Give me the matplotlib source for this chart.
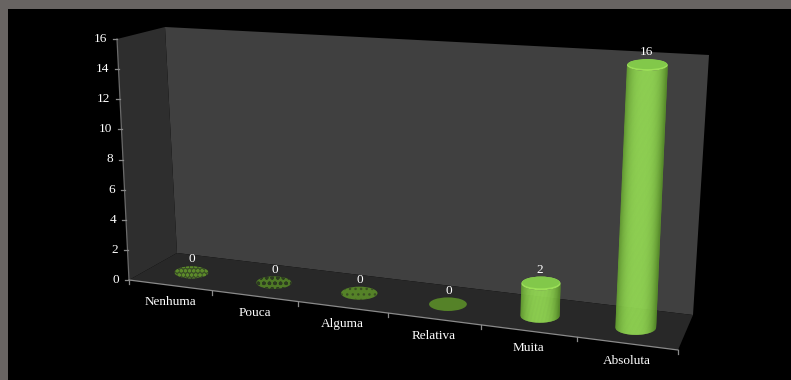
import numpy as np
import matplotlib
matplotlib.use('Agg')
import matplotlib.pyplot as plt
from matplotlib.patches import Polygon, Rectangle, Ellipse

categories = ['Nenhuma', 'Pouca', 'Alguma', 'Relativa', 'Muita', 'Absoluta']
values = [0, 0, 0, 0, 2, 16]
y_ticks = [0, 2, 4, 6, 8, 10, 12, 14, 16]
y_max = 16

# box corners in pixels
floor_fl = (129, 280)
floor_fr = (678, 350)
floor_br = (693, 315)
floor_bl = (177, 253)
up_fl = (-12, -241)
up_fr = (12, -269)
up_br = (16, -260)
up_bl = (-12, -226)


def homography(src, dst):
    A = []
    b = []
    for (x, y), (u, v) in zip(src, dst):
        A.append([x, y, 1, 0, 0, 0, -u * x, -u * y])
        A.append([0, 0, 0, x, y, 1, -v * x, -v * y])
        b.extend([u, v])
    h = np.linalg.solve(np.array(A, float), np.array(b, float))
    return np.append(h, 1).reshape(3, 3)


H = homography([(0, 0), (1, 0), (1, 1), (0, 1)], [floor_fl, floor_fr, floor_br, floor_bl])


def project(cat, val, depth):
    # cat in category units, val in chart units, depth 0 front .. 1 back
    u = cat / len(categories)
    p = H @ np.array([u, depth, 1.0])
    px, py = p[0] / p[2], p[1] / p[2]
    front = (1 - u) * np.array(up_fl) + u * np.array(up_fr)
    back = (1 - u) * np.array(up_bl) + u * np.array(up_br)
    up = (1 - depth) * front + depth * back
    return px + up[0] * val / y_max, py + up[1] * val / y_max


fig = plt.figure(figsize=(7.91, 3.80), dpi=100, facecolor='black')
ax = fig.add_axes([0, 0, 1, 1])
ax.set_xlim(0, 791)
ax.set_ylim(380, 0)
ax.axis('off')

ax.add_patch(Rectangle((0, 0), 791, 9, color='#686462', lw=0))
ax.add_patch(Rectangle((0, 0), 8, 380, color='#686462', lw=0))

n = len(categories)
ax.add_patch(Polygon([project(0, 0, 1), project(n, 0, 1), project(n, y_max, 1), project(0, y_max, 1)],
                     color='#404040', lw=0, zorder=1))
ax.add_patch(Polygon([project(0, 0, 0), project(0, 0, 1), project(0, y_max, 1), project(0, y_max, 0)],
                     color='#2e2e2e', lw=0, zorder=1))
ax.add_patch(Polygon([project(0, 0, 0), project(n, 0, 0), project(n, 0, 1), project(0, 0, 1)],
                     color='#282828', lw=0, zorder=1))

# axes
axis_col = '#8a8a8a'
label_font = dict(color='white', fontsize=9.5, family='Liberation Serif', va='center', zorder=6)
ax.plot(*zip(project(0, 0, 0), project(0, y_max, 0)), color='#6a6a6a', lw=0.9, zorder=2)
ax.plot(*zip(project(0, 0, 0), project(n, 0, 0)), color=axis_col, lw=0.9, zorder=2)
for t in y_ticks:
    x, y = project(0, t, 0)
    ax.plot([x - 4, x], [y, y], color=axis_col, lw=0.9, zorder=2)
    ax.text(x - 9.5, y, str(t), ha='right', **label_font)
for i in range(n + 1):
    x, y = project(i, 0, 0)
    ax.plot([x, x], [y, y + 4], color=axis_col, lw=0.9, zorder=2)
for i, name in enumerate(categories):
    x, y = project(i + 0.5, 0, 0)
    ax.text(x, y + 17, name, ha='center', **label_font)


def shade(t):
    # horizontal shading across the cylinder, t from -1 to 1
    dark = np.array([92, 150, 42]) / 255
    light = np.array([150, 222, 84]) / 255
    k = np.clip(1 - abs(t + 0.05) ** 3, 0, 1)
    return tuple(dark + (light - dark) * k)


# the flat bars get less speckled along the floor: face, speckle, hatch
disc_styles = [('#3a4f26', '#5c8a2a', 'oooo'),
               ('#4f7a26', '#2c3a20', 'ooo'),
               ('#558228', '#3a5022', '...'),
               ('#558228', '#558228', None)]
plt.rcParams['hatch.linewidth'] = 1.0
zero_i = 0
for i, v in enumerate(values):
    bx, by = project(i + 0.5, 0, 0.45)
    lx, _ = project(i + 0.29, 0, 0.45)
    rx = bx - lx
    ry = rx * 0.36
    if v == 0:
        face, speck, hatch = disc_styles[zero_i]
        zero_i += 1
        ax.add_patch(Ellipse((bx, by), 2 * rx, 2 * ry, facecolor=face, edgecolor=speck,
                             hatch=hatch, lw=0, zorder=3))
        ax.text(bx + 0.5, by - 13, '0', ha='center', **label_font)
        continue
    tx, ty = project(i + 0.5, v, 0.45)
    ry_top = ry * (1 - 0.2 * v / y_max)
    ts = np.linspace(-1, 1, 90)
    for a, b in zip(ts[:-1], ts[1:]):
        b2 = min(b + 0.012, 1)
        quad = [(bx + rx * a, by + ry * np.sqrt(1 - a * a)),
                (bx + rx * b2, by + ry * np.sqrt(1 - b2 * b2)),
                (tx + rx * b2, ty + ry_top * np.sqrt(1 - b2 * b2)),
                (tx + rx * a, ty + ry_top * np.sqrt(1 - a * a))]
        ax.add_patch(Polygon(quad, color=shade((a + b) / 2), lw=0, zorder=4))
    ax.add_patch(Ellipse((tx, ty), 2 * rx, 2 * ry_top, color='#9ce058', lw=0, zorder=5))
    ax.add_patch(Ellipse((tx, ty - 1), 2 * rx * 0.96, 2 * ry_top * 0.85, color='#82c84a', lw=0, zorder=5))
    ax.text(tx - 1, ty - 13, str(v), ha='center', **label_font)

fig.savefig('out.png', dpi=100, facecolor='black')
